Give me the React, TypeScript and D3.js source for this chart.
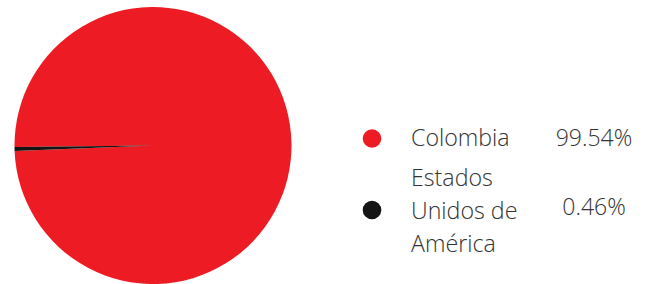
import React from "react";
import * as d3 from "d3";

const categories = ["Colombia", "Estados Unidos de América"];
const labelLines = [["Colombia"], ["Estados", "Unidos de", "América"]];
const values = [99.54, 0.46];
const valueLabels = ["99.54%", "0.46%"];
const colors = ["#ED1C24", "#141414"];

export default function App() {
  const W = 652, H = 284;
  const cx = 153, cy = 145.5, r = 138.5;
  const startDeg = -90.6;
  const pie = d3
    .pie<number>()
    .sort(null)
    .value((d) => d)
    .startAngle((startDeg * Math.PI) / 180)
    .endAngle(((startDeg + 360) * Math.PI) / 180);
  const arcs = pie(values);
  const arc = d3.arc<d3.PieArcDatum<number>>().innerRadius(0).outerRadius(r);

  const font = "'Open Sans', 'Segoe UI', sans-serif";
  const rows = [
    { dotY: 138.5, valueY: 146, lineYs: [146] },
    { dotY: 210, valueY: 215, lineYs: [186, 219, 252] },
  ];

  return (
    <svg
      width={W}
      height={H}
      style={{ position: "absolute", left: 0, top: 0, display: "block" }}
    >
      <g transform={`translate(${cx},${cy})`}>
        {arcs.map((a, i) => (
          <path key={i} d={arc(a) || ""} fill={colors[i]} />
        ))}
      </g>
      {categories.map((c, i) => (
        <g key={c}>
          <circle cx={372} cy={rows[i].dotY} r={9.3} fill={colors[i]} />
          <text
            fontFamily={font}
            fontWeight={300}
            fontSize={23.2}
            fill="#333"
          >
            {labelLines[i].map((ln, j) => (
              <tspan key={j} x={411} y={rows[i].lineYs[j]}>
                {ln}
              </tspan>
            ))}
          </text>
          <text
            x={594}
            y={rows[i].valueY}
            textAnchor="middle"
            fontFamily={font}
            fontWeight={300}
            fontSize={23}
            fill="#333"
          >
            {valueLabels[i]}
          </text>
        </g>
      ))}
    </svg>
  );
}
